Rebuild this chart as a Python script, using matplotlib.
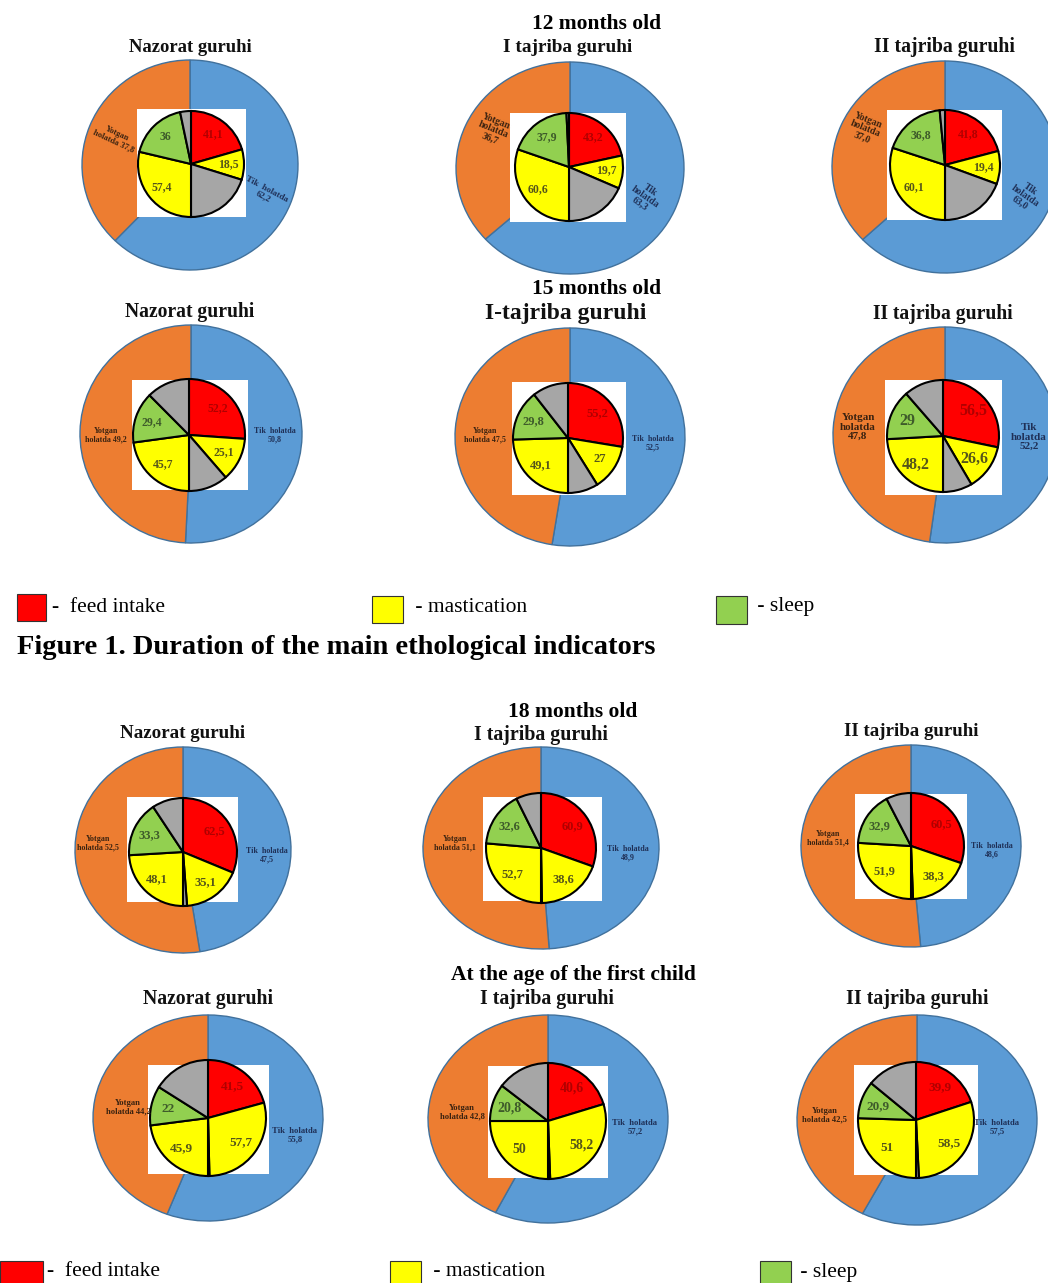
import matplotlib
matplotlib.use("Agg")
import matplotlib.pyplot as plt
from matplotlib.patches import Rectangle
import numpy as np

plt.rcParams['font.family'] = ['Liberation Serif', 'DejaVu Serif']

# ---------------- data ----------------
ages = ["12 months old", "15 months old", "18 months old", "At the age of the first child"]
groups = [["Nazorat guruhi", "I tajriba guruhi", "II tajriba guruhi"],
          ["Nazorat guruhi", "I-tajriba guruhi", "II tajriba guruhi"],
          ["Nazorat guruhi", "I tajriba guruhi", "II tajriba guruhi"],
          ["Nazorat guruhi", "I tajriba guruhi", "II tajriba guruhi"]]
# outer ring: standing (Tik holatda) / lying (Yotgan holatda), %
standing = [[62.2, 63.3, 63.0], [50.8, 52.5, 52.2], [47.5, 48.9, 48.6], [55.8, 57.2, 57.5]]
lying = [[37.8, 36.7, 37.0], [49.2, 47.5, 47.8], [52.5, 51.1, 51.4], [44.2, 42.8, 42.5]]
# inner pie, standing half (%)
feed = [[41.1, 43.2, 41.8], [52.2, 55.2, 56.5], [62.5, 60.9, 60.5], [41.5, 40.6, 39.9]]
chew_standing = [[18.5, 19.7, 19.4], [25.1, 27.0, 26.6], [35.1, 38.6, 38.3], [57.7, 58.2, 58.5]]
rest_standing = [[40.4, 37.1, 38.8], [22.7, 17.8, 16.9], [2.4, 0.5, 1.2], [0.8, 1.2, 1.6]]
# inner pie, lying half (%)
chew_lying = [[57.4, 60.6, 60.1], [45.7, 49.1, 48.2], [48.1, 52.7, 51.9], [45.9, 50.0, 51.0]]
sleep = [[36.0, 37.9, 36.8], [29.4, 29.8, 29.0], [33.3, 32.6, 32.9], [22.0, 20.8, 20.9]]
rest_lying = [[6.6, 1.5, 3.1], [24.9, 21.1, 22.8], [18.6, 14.7, 15.2], [32.1, 29.2, 28.1]]

legend_labels = ["-  feed intake", " - mastication", " - sleep"]
caption = "Figure 1. Duration of the main ethological indicators"

# ---------------- layout (pixels) ----------------
W, H = 1048, 1283
outer_geo = [[(190, 165, 108, 105), (570, 168, 114, 106), (945, 167, 113, 106)],
             [(191, 434, 111, 109), (570, 437, 115, 109), (945, 435, 112, 108)],
             [(183, 850, 108, 103), (541, 848, 118, 101), (911, 846, 110, 101)],
             [(208, 1118, 115, 103), (548, 1119, 120, 104), (917, 1120, 120, 105)]]
square_geo = [[(137, 246, 109, 217), (510, 626, 113, 222), (887, 1002, 110, 220)],
              [(132, 248, 380, 490), (512, 626, 382, 495), (885, 1002, 380, 495)],
              [(127, 238, 797, 902), (483, 602, 797, 901), (855, 967, 794, 899)],
              [(148, 269, 1065, 1174), (488, 608, 1066, 1178), (854, 978, 1065, 1175)]]
inner_geo = [[(191, 164, 53), (569, 167, 54), (945, 165, 55)],
             [(189, 435, 56), (568, 438, 55), (943, 436, 56)],
             [(183, 852, 54), (541, 848, 55), (911, 846, 53)],
             [(208, 1118, 58), (548, 1121, 58), (916, 1120, 58)]]
age_pos = [(597, 24), (597, 289), (573, 712), (573, 975)]
title_pos = [[(190, 47), (568, 48), (945, 47)],
             [(190, 312), (566, 314), (943, 314)],
             [(183, 734), (541, 735), (911, 731)],
             [(208, 999), (547, 999), (917, 999)]]
title_fs = [[13.4, 13.9, 14.2], [14.1, 17.0, 14.1], [13.7, 14.3, 13.6], [14.2, 14.3, 14.4]]
# outer label positions: (x, y, rotation, fontsize, multiline-style)
right_lab = [[(265, 193, -28, 6.5, 0), (645, 197, -35, 7.0, 1), (1025, 196, -35, 7.0, 1)],
             [(275, 435, 0, 5.8, 0), (653, 443, 0, 5.8, 0), (1029, 437, 0, 8.0, 1)],
             [(267, 855, 0, 5.8, 0), (628, 853, 0, 5.8, 0), (992, 850, 0, 5.8, 0)],
             [(295, 1135, 0, 6.2, 0), (635, 1127, 0, 6.2, 0), (997, 1127, 0, 6.2, 0)]]
left_lab = [[(115, 137, -25, 6.0, 0), (493, 130, -22, 7.0, 1), (865, 129, -22, 7.0, 1)],
            [(106, 435, 0, 5.8, 0), (485, 435, 0, 5.8, 0), (858, 427, 0, 8.0, 1)],
            [(98, 843, 0, 5.8, 0), (455, 843, 0, 5.8, 0), (828, 838, 0, 5.8, 0)],
            [(128, 1107, 0, 6.2, 0), (462, 1112, 0, 6.2, 0), (825, 1115, 0, 6.2, 0)]]
inner_fs = [[8.5, 8.5, 8.5], [8.5, 9.0, 11.5], [9.0, 9.0, 9.0], [9.5, 10.0, 9.5]]

# ---------------- colours ----------------
BLUE, ORANGE = '#5B9BD5', '#ED7D31'
RED, YELLOW, GRAY, GREEN = '#FF0000', '#FFFF00', '#A6A6A6', '#92D050'
inner_colors = [RED, YELLOW, GRAY, YELLOW, GREEN, GRAY]
text_colors = ['#B00000', '#55551A', None, '#55551A', '#3E5B2A', None]


def box(x0, y0, w, h):
    return [x0 / W, 1 - (y0 + h) / H, w / W, h / H]


def fmt(v, keep_decimal=True):
    s = ('%.1f' % v) if keep_decimal or v != int(v) else ('%d' % v)
    return s.replace('.', ',')


fig = plt.figure(figsize=(W / 100, H / 100), dpi=100)
fig.patch.set_facecolor('white')


def clean(ax):
    ax.set_aspect('auto')
    ax.set_xlim(-1, 1)
    ax.set_ylim(-1, 1)
    ax.set_xticks([])
    ax.set_yticks([])
    for s in ax.spines.values():
        s.set_visible(False)


for r in range(4):
    for c in range(3):
        cx, cy, rx, ry = outer_geo[r][c]
        axo = fig.add_axes(box(cx - rx, cy - ry, 2 * rx, 2 * ry))
        axo.pie([standing[r][c], lying[r][c]], colors=[BLUE, ORANGE], startangle=90,
                counterclock=False, frame=True,
                wedgeprops=dict(edgecolor='#41719C', linewidth=1.0, clip_on=False))
        clean(axo)
        axo.patch.set_alpha(0)

        x0, x1, y0, y1 = square_geo[r][c]
        axs = fig.add_axes(box(x0, y0, x1 - x0, y1 - y0))
        axs.set_facecolor('white')
        clean(axs)

        px, py, pr = inner_geo[r][c]
        axi = fig.add_axes(box(px - pr, py - pr, 2 * pr, 2 * pr))
        vals = [feed[r][c], chew_standing[r][c], rest_standing[r][c],
                chew_lying[r][c], sleep[r][c], rest_lying[r][c]]
        wedges, _ = axi.pie(vals, colors=inner_colors, startangle=90, counterclock=False,
                            frame=True,
                            wedgeprops=dict(edgecolor='black', linewidth=1.5, clip_on=False))
        clean(axi)
        axi.patch.set_alpha(0)
        for i, wdg in enumerate(wedges):
            if text_colors[i] is None:
                continue
            th = np.deg2rad((wdg.theta1 + wdg.theta2) / 2)
            axi.text(0.7 * np.cos(th), 0.7 * np.sin(th), fmt(vals[i], keep_decimal=False),
                     ha='center', va='center',
                     fontsize=inner_fs[r][c], fontweight='bold', color=text_colors[i])

ov = fig.add_axes([0, 0, 1, 1])
ov.set_xlim(0, W)
ov.set_ylim(H, 0)
ov.axis('off')
ov.set_zorder(10)

for r in range(4):
    ov.text(*age_pos[r], ages[r], ha='center', va='center', fontsize=15.5, fontweight='bold')
    for c in range(3):
        tx, ty = title_pos[r][c]
        ov.text(tx, ty, groups[r][c], ha='center', va='center', fontsize=title_fs[r][c],
                fontweight='bold', color='#111111')
        x, y, rot, fs, st = right_lab[r][c]
        s = fmt(standing[r][c])
        txt = ("Tik\nholatda\n" + s) if st else ("Tik  holatda\n" + s)
        ov.text(x, y, txt, ha='center', va='center', rotation=rot, fontsize=fs,
                fontweight='bold', color='#1F3057', linespacing=1.0)
        x, y, rot, fs, st = left_lab[r][c]
        s = fmt(lying[r][c])
        txt = ("Yotgan\nholatda\n" + s) if st else ("Yotgan\nholatda " + s)
        ov.text(x, y, txt, ha='center', va='center', rotation=rot, fontsize=fs,
                fontweight='bold', color='#3A2210', linespacing=1.0)

# legends
leg_sets = [[(17, 594, 29, 27, 52), (372, 596, 31, 27, 410), (716, 596, 31, 28, 752)],
            [(0, 1261, 43, 24, 47), (390, 1261, 31, 24, 428), (760, 1261, 31, 24, 795)]]
leg_y = [607, 1272]
for k, items in enumerate(leg_sets):
    for (lx, ly, lw, lh, tx), col, lab in zip(items, [RED, YELLOW, GREEN], legend_labels):
        ov.add_patch(Rectangle((lx, ly), lw, lh, facecolor=col, edgecolor='#333333', linewidth=0.8))
        ov.text(tx, leg_y[k], lab, ha='left', va='center', fontsize=15.5)

ov.text(17, 648, caption, ha='left', va='center', fontsize=20.5, fontweight='bold')

fig.savefig('out.png', dpi=100, facecolor='white')
